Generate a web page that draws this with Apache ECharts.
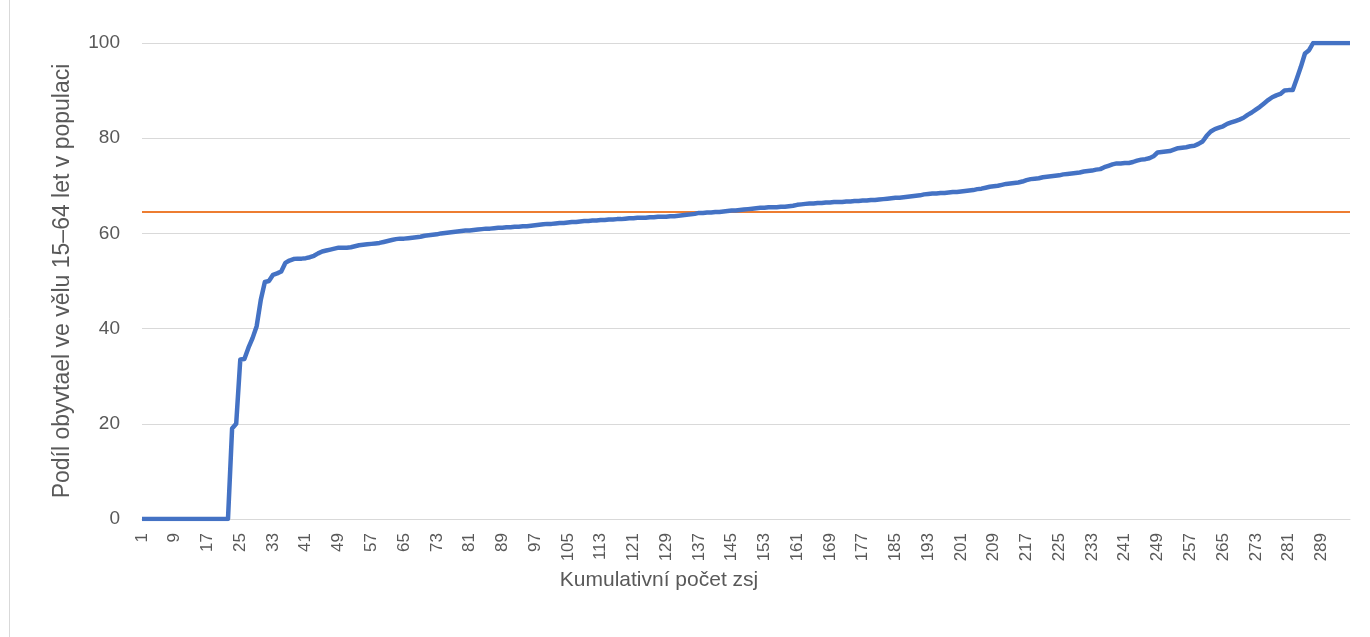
<!DOCTYPE html>
<html>
<head>
<meta charset="utf-8">
<script src="https://cdn.jsdelivr.net/npm/echarts@6/dist/echarts.min.js"></script>
<style>
  html, body { margin: 0; padding: 0; background: #fff; }
  #main { width: 1370px; height: 637px; }
</style>
</head>
<body>
<div id="main"></div>
<script>
// kumulativni pocet zsj: 1..296
var categories = [];
for (var c = 1; c <= 296; c++) categories.push(String(c));

// podil obyvatel 15-64 let, serazeno vzestupne
var shareValues = [
  0, 0, 0, 0, 0, 0, 0, 0, 0, 0,
  0, 0, 0, 0, 0, 0, 0, 0, 0, 0,
  0, 0, 19, 20, 33.5, 33.6, 36, 38, 40.5, 46,
  49.8, 50, 51.3, 51.6, 52, 53.8, 54.3, 54.6, 54.7, 54.7,
  54.8, 55, 55.3, 55.8, 56.2, 56.4, 56.6, 56.8, 57, 57,
  57, 57.1, 57.3, 57.5, 57.6, 57.7, 57.8, 57.9, 58, 58.2,
  58.4, 58.6, 58.8, 58.9, 58.9, 59, 59.1, 59.2, 59.3, 59.5,
  59.6, 59.7, 59.8, 60, 60.1, 60.2, 60.3, 60.4, 60.5, 60.6,
  60.6, 60.7, 60.8, 60.9, 61, 61, 61.1, 61.2, 61.2, 61.3,
  61.3, 61.4, 61.4, 61.5, 61.5, 61.6, 61.7, 61.8, 61.9, 62,
  62, 62.1, 62.2, 62.2, 62.3, 62.4, 62.4, 62.5, 62.6, 62.6,
  62.7, 62.7, 62.8, 62.8, 62.9, 62.9, 63, 63, 63.1,
  63.2, 63.2, 63.3, 63.3, 63.3, 63.4, 63.4, 63.5, 63.5, 63.5,
  63.6, 63.6, 63.7, 63.8, 63.9, 64, 64.1, 64.3, 64.3, 64.4,
  64.4, 64.5, 64.5, 64.6, 64.7, 64.8, 64.8, 64.9, 65, 65.1,
  65.2, 65.3, 65.4, 65.4, 65.5, 65.5, 65.5, 65.6, 65.6, 65.7,
  65.8, 66, 66.1, 66.2, 66.3, 66.3, 66.4, 66.4, 66.5, 66.5,
  66.6, 66.6, 66.6, 66.7, 66.7, 66.8, 66.8, 66.9, 66.9, 67,
  67, 67.1, 67.2, 67.3, 67.4, 67.5, 67.5, 67.6, 67.7, 67.8,
  67.9, 68, 68.2, 68.3, 68.4, 68.4, 68.5, 68.5, 68.6, 68.7,
  68.7, 68.8, 68.9, 69, 69.1, 69.3, 69.4, 69.6, 69.8, 69.9,
  70, 70.2, 70.4, 70.5, 70.6, 70.7, 70.9, 71.2, 71.4,
  71.5, 71.6, 71.8, 71.9, 72, 72.1, 72.2, 72.4, 72.5, 72.6,
  72.7, 72.8, 73, 73.1, 73.2, 73.4, 73.5, 73.9, 74.2, 74.5,
  74.7, 74.7, 74.8, 74.8, 75, 75.3, 75.5, 75.6, 75.8, 76.2,
  77, 77.1, 77.2, 77.3, 77.6, 77.9, 78, 78.1, 78.3, 78.4,
  78.8, 79.3, 80.5, 81.4, 81.9, 82.2, 82.5, 83, 83.3, 83.6,
  83.9, 84.3, 84.9, 85.4, 86, 86.6, 87.3, 88, 88.6, 89,
  89.3, 90, 90.1, 90.1, 92.5, 95, 97.8, 98.5, 100, 100,
  100, 100, 100, 100, 100, 100, 100, 100
];

// prumer (oranzova cara)
var averageShare = 64.6;

var yTicks = [0, 20, 40, 60, 80, 100];

var chart = echarts.init(document.getElementById('main'));

var option = {
  animation: false,
  textStyle: { fontFamily: 'Liberation Sans, Arial, sans-serif' },
  graphic: [{
    type: 'rect',
    shape: { x: 9.5, y: -2, width: 1400, height: 640 },
    style: { fill: 'none', stroke: '#d9d9d9', lineWidth: 1 },
    silent: true
  }],
  grid: { left: 142, right: 20, top: 43, bottom: 118 },
  xAxis: {
    type: 'category',
    data: categories,
    boundaryGap: false,
    name: 'Kumulativní počet zsj',
    nameLocation: 'middle',
    nameGap: 48,
    // nazev osy je v originale posunuty doleva od stredu
    nameTextStyle: { fontSize: 21, color: '#595959', padding: [0, 174, 0, 0] },
    axisLine: { lineStyle: { color: '#d9d9d9', width: 1 } },
    axisTick: { show: false },
    axisLabel: {
      interval: 7,
      rotate: 90,
      fontSize: 17,
      color: '#595959',
      margin: 14
    },
    splitLine: { show: false }
  },
  yAxis: {
    type: 'value',
    min: yTicks[0],
    max: yTicks[yTicks.length - 1],
    interval: 20,
    name: 'Podíl obyvtael ve vělu 15–64 let v populaci',
    nameLocation: 'middle',
    nameGap: 68,
    nameTextStyle: { fontSize: 23, color: '#595959' },
    axisLine: { show: false },
    axisTick: { show: false },
    axisLabel: { fontSize: 19, color: '#595959', margin: 22 },
    splitLine: { lineStyle: { color: '#d9d9d9', width: 1 } }
  },
  series: [{
    name: 'Podíl',
    type: 'line',
    data: shareValues,
    symbol: 'none',
    lineStyle: { color: '#4472C4', width: 4.5, join: 'round' },
    z: 3,
    markLine: {
      silent: true,
      symbol: 'none',
      label: { show: false },
      lineStyle: { color: '#ED7D31', width: 2, type: 'solid' },
      data: [{ yAxis: averageShare }],
      z: 2
    }
  }]
};

chart.setOption(option);
</script>
</body>
</html>
